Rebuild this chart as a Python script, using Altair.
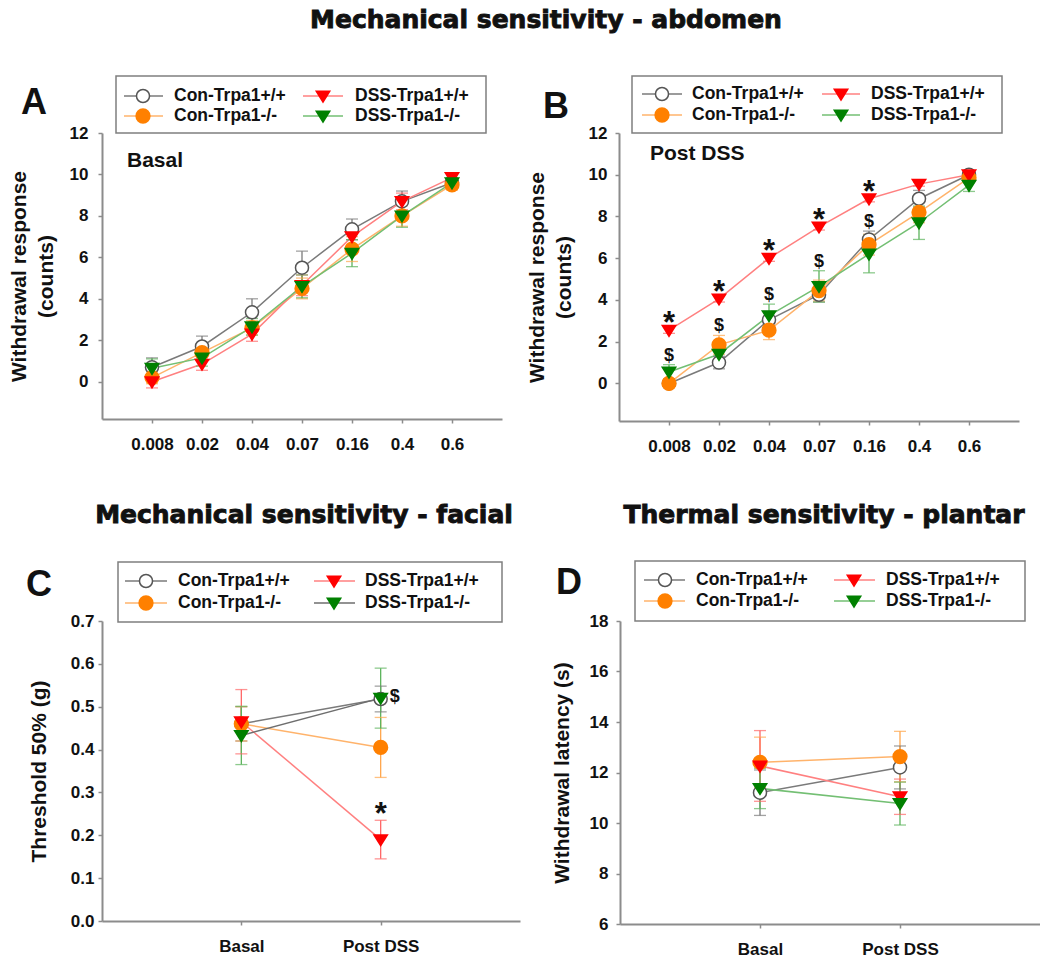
import altair as alt
import pandas as pd

# ---- groups, categories -------------------------------------------------
series = ["Con-Trpa1+/+", "Con-Trpa1-/-", "DSS-Trpa1+/+", "DSS-Trpa1-/-"]
doses = ["0.008", "0.02", "0.04", "0.07", "0.16", "0.4", "0.6"]
phases = ["Basal", "Post DSS"]

# ---- A: abdomen, basal (withdrawal counts, mean and SEM) -----------------
a_con_wt = [0.7, 1.7, 3.35, 5.5, 7.35, 8.7, 9.6]
a_con_wt_se = [0.45, 0.5, 0.65, 0.8, 0.5, 0.5, 0.2]
a_con_ko = [0.2, 1.4, 2.6, 4.5, 6.4, 8.0, 9.5]
a_con_ko_se = [0.3, 0.4, 0.35, 0.5, 0.6, 0.5, 0.25]
a_dss_wt = [0.0, 0.85, 2.3, 4.65, 7.0, 8.7, 9.85]
a_dss_wt_se = [0.3, 0.3, 0.35, 0.5, 0.5, 0.4, 0.15]
a_dss_ko = [0.65, 1.15, 2.65, 4.6, 6.2, 8.0, 9.6]
a_dss_ko_se = [0.45, 0.4, 0.4, 0.55, 0.65, 0.55, 0.25]

# ---- B: abdomen, post DSS ------------------------------------------------
b_con_wt = [0.0, 1.0, 3.05, 4.25, 6.9, 8.85, 10.0]
b_con_wt_se = [0.1, 0.3, 0.4, 0.35, 0.4, 0.4, 0.1]
b_con_ko = [0.0, 1.85, 2.55, 4.45, 6.65, 8.2, 9.85]
b_con_ko_se = [0.1, 0.45, 0.45, 0.5, 0.5, 0.5, 0.2]
b_dss_wt = [2.55, 4.05, 6.0, 7.5, 8.85, 9.55, 10.0]
b_dss_wt_se = [0.15, 0.15, 0.15, 0.15, 0.15, 0.1, 0.05]
b_dss_ko = [0.55, 1.4, 3.25, 4.65, 6.2, 7.7, 9.5]
b_dss_ko_se = [0.35, 0.45, 0.55, 0.75, 0.9, 0.8, 0.3]
b_star = [True, True, True, True, True, False, False]
b_dollar = [True, True, True, True, True, False, False]

# ---- C: facial threshold 50% (g) ----------------------------------------
c_con_wt = [0.46, 0.518]
c_con_wt_se = [0.04, 0.03]
c_con_ko = [0.46, 0.405]
c_con_ko_se = [0.04, 0.07]
c_dss_wt = [0.465, 0.19]
c_dss_wt_se = [0.075, 0.045]
c_dss_ko = [0.433, 0.52]
c_dss_ko_se = [0.068, 0.07]

# ---- D: plantar withdrawal latency (s) -----------------------------------
d_con_wt = [11.2, 12.2]
d_con_wt_se = [0.9, 0.85]
d_con_ko = [12.4, 12.63]
d_con_ko_se = [1.0, 1.0]
d_dss_wt = [12.26, 11.04]
d_dss_wt_se = [1.4, 0.7]
d_dss_ko = [11.37, 10.77]
d_dss_ko_se = [0.8, 0.85]

# ---- styles ---------------------------------------------------------------
FONT = "Liberation Sans"
HEAVY = "DejaVu Sans"
INK = "#111111"
AXC = "#8c8c8c"
TRI = "M-1,-0.7L1,-0.7L0,0.9Z"

LINE = {"Con-Trpa1+/+": "#7a7a7a", "Con-Trpa1-/-": "#ffb36b",
        "DSS-Trpa1+/+": "#ff8080", "DSS-Trpa1-/-": "#73bf73"}
ERR = {"Con-Trpa1+/+": "#7a7a7a", "Con-Trpa1-/-": "#ffa64d",
       "DSS-Trpa1+/+": "#ff6666", "DSS-Trpa1-/-": "#5cb35c"}
FILL = {"Con-Trpa1+/+": "#ffffff", "Con-Trpa1-/-": "#ff8000",
        "DSS-Trpa1+/+": "#ff0000", "DSS-Trpa1-/-": "#008000"}
EDGE = {"Con-Trpa1+/+": "#555555", "Con-Trpa1-/-": "#ff8000",
        "DSS-Trpa1+/+": "#ff0000", "DSS-Trpa1-/-": "#008000"}
SHAPE = {"Con-Trpa1+/+": "circle", "Con-Trpa1-/-": "circle",
         "DSS-Trpa1+/+": TRI, "DSS-Trpa1-/-": TRI}
SIZE = {"Con-Trpa1+/+": 170, "Con-Trpa1-/-": 190,
        "DSS-Trpa1+/+": 180, "DSS-Trpa1-/-": 180}

ONE = [{"k": 0}]


def table(cats, means, sems, lines):
    rows = []
    for s, m, e in zip(series, means, sems):
        for i, (c, v, d) in enumerate(zip(cats, m, e)):
            rows.append(dict(cat=c, idx=i, series=s, y=v, err=d, lo=v - d, hi=v + d,
                             lc=lines[s], ec=ERR[s], mf=FILL[s], ms=EDGE[s],
                             shape=SHAPE[s], msize=SIZE[s]))
    return pd.DataFrame(rows)


def label(text, x, y, size, font=FONT, align="center", baseline="middle", heavy=False):
    extra = {"stroke": INK, "strokeWidth": 0.9} if heavy else {}
    return alt.Chart(alt.Data(values=ONE)).mark_text(
        text=text, font=font, fontSize=size, fontWeight="bold", color=INK,
        align=align, baseline=baseline, **extra
    ).encode(x=alt.value(x), y=alt.value(y))


def legend(box, rows, cols, lines):
    x0, x1, y0, y1 = box
    parts = [alt.Chart(alt.Data(values=ONE)).mark_rect(
        fillOpacity=0, stroke="#7f7f7f", strokeWidth=1.5
    ).encode(x=alt.value(x0), x2=alt.value(x1), y=alt.value(y0), y2=alt.value(y1))]
    for k, s in enumerate(series):
        lx0, lx1, mx, tx = cols[k // 2]
        ry = rows[k % 2]
        parts.append(alt.Chart(alt.Data(values=ONE)).mark_rule(
            color=lines[s], strokeWidth=1.5
        ).encode(x=alt.value(lx0), x2=alt.value(lx1), y=alt.value(ry)))
        parts.append(alt.Chart(alt.Data(values=ONE)).mark_point(
            shape=SHAPE[s], filled=True, fill=FILL[s], stroke=EDGE[s],
            strokeWidth=1.5, size=SIZE[s], opacity=1
        ).encode(x=alt.value(mx), y=alt.value(ry)))
        parts.append(label(s, tx, ry, 17.5, align="left"))
    return parts


def panel(df, cats, w, h, ydom, yvals, yfmt, ytitle, ytitle_x, lab_pad,
          leg, lines, extras, anchor=None):
    def X():
        return alt.X("cat:N", sort=cats,
                     scale=alt.Scale(type="point", padding=1),
                     axis=alt.Axis(title=None, labelAngle=0, labelFont=FONT,
                                   labelFontSize=17, labelFontWeight="bold",
                                   labelColor=INK, labelPadding=13, tickSize=4,
                                   tickColor=AXC, tickWidth=1.5, domainColor=AXC,
                                   domainWidth=2, grid=False))

    def Y(field):
        return alt.Y(field, scale=alt.Scale(domain=ydom, nice=False, zero=False),
                     axis=alt.Axis(title=ytitle, values=yvals, format=yfmt,
                                   labelFont=FONT, labelFontSize=17,
                                   labelFontWeight="bold", labelColor=INK,
                                   labelPadding=lab_pad, tickSize=4,
                                   tickColor=AXC, tickWidth=1.5,
                                   domainColor=AXC, domainWidth=2, grid=False,
                                   titleFont=FONT, titleFontSize=21,
                                   titleFontWeight="bold", titleColor=INK,
                                   titleAngle=270, titleAlign="center",
                                   titleBaseline="bottom", titleX=ytitle_x,
                                   titleY=h / 2, titleLineHeight=27))

    base = alt.Chart(df)
    layers = []
    if anchor is not None:
        ax, ay = anchor
        layers.append(alt.Chart(alt.Data(values=ONE)).mark_rect(opacity=0).encode(
            x=alt.value(ax), x2=alt.value(ax + 1), y=alt.value(ay), y2=alt.value(ay + 1)))
    layers += [
        base.mark_line(strokeWidth=1.5).encode(
            x=X(), y=Y("y:Q"), detail="series:N",
            stroke=alt.Stroke("lc:N", scale=None), order="idx:Q"),
        base.mark_rule(strokeWidth=1.3).encode(
            x=X(), y=Y("lo:Q"), y2="hi:Q", stroke=alt.Stroke("ec:N", scale=None)),
        base.mark_tick(orient="horizontal", size=12, thickness=1.3).encode(
            x=X(), y=Y("lo:Q"), fill=alt.Fill("ec:N", scale=None)),
        base.mark_tick(orient="horizontal", size=12, thickness=1.3).encode(
            x=X(), y=Y("hi:Q"), fill=alt.Fill("ec:N", scale=None)),
        base.mark_point(filled=True, opacity=1, strokeWidth=1.5).encode(
            x=X(), y=Y("y:Q"),
            shape=alt.Shape("shape:N", scale=None),
            fill=alt.Fill("mf:N", scale=None),
            stroke=alt.Stroke("ms:N", scale=None),
            size=alt.Size("msize:Q", scale=None)),
    ]
    for e in extras:
        if callable(e):
            layers.append(e(X, Y))
        else:
            layers.append(e)
    layers += legend(*leg, lines)
    return alt.layer(*layers).properties(width=w, height=h)


lines_std = dict(LINE)
lines_c = dict(LINE)
lines_c["DSS-Trpa1-/-"] = "#6e6e6e"

# ---- tables ---------------------------------------------------------------
df_a = table(doses, [a_con_wt, a_con_ko, a_dss_wt, a_dss_ko],
             [a_con_wt_se, a_con_ko_se, a_dss_wt_se, a_dss_ko_se], lines_std)
df_b = table(doses, [b_con_wt, b_con_ko, b_dss_wt, b_dss_ko],
             [b_con_wt_se, b_con_ko_se, b_dss_wt_se, b_dss_ko_se], lines_std)
df_c = table(phases, [c_con_wt, c_con_ko, c_dss_wt, c_dss_ko],
             [c_con_wt_se, c_con_ko_se, c_dss_wt_se, c_dss_ko_se], lines_c)
df_d = table(phases, [d_con_wt, d_con_ko, d_dss_wt, d_dss_ko],
             [d_con_wt_se, d_con_ko_se, d_dss_wt_se, d_dss_ko_se], lines_std)

# significance marks for B: * above DSS wild type, $ above the other groups
b_sig_star = df_b[df_b["series"] == "DSS-Trpa1+/+"].copy()
b_sig_star = b_sig_star[[b_star[i] for i in b_sig_star["idx"]]]
b_rest = df_b[df_b["series"] != "DSS-Trpa1+/+"]
b_top = b_rest.groupby(["cat", "idx"], as_index=False)["hi"].max()
b_top = b_top[[b_dollar[i] for i in b_top["idx"]]].rename(columns={"hi": "lvl"})

c_star = df_c[(df_c["series"] == "DSS-Trpa1+/+") & (df_c["cat"] == "Post DSS")]
c_dollar = df_c[(df_c["series"] == "DSS-Trpa1-/-") & (df_c["cat"] == "Post DSS")]


def star_layer(d, field, dy, txt, size, dx=0, align="center"):
    def make(X, Y):
        return alt.Chart(d).mark_text(
            text=txt, font=FONT, fontSize=size, fontWeight="bold", color=INK,
            baseline="alphabetic", align=align, dy=dy, dx=dx
        ).encode(x=X(), y=Y(field))
    return make


panel_a = panel(
    df_a, doses, 400, 286, [-1.8, 12], list(range(0, 13, 2)), "d",
    ["Withdrawal response", "(counts)"], -73, 10,
    ((14, 384, -57, 0), (-37, -17), [(22, 61, 41, 72), (201, 241, 221, 253)]),
    lines_std,
    [label("A", -68, -30, 36),
     label("Basal", 25, 28, 21, align="left"),
     label("Mechanical sensitivity - abdomen", 444, -113, 25, font=HEAVY, heavy=True)],
    anchor=(-102, -133))

panel_b = panel(
    df_b, doses, 400, 288, [-1.8, 12], list(range(0, 13, 2)), "d",
    ["Withdrawal response", "(counts)"], -72, 8,
    ((13, 383, -57, 0), (-39, -18), [(23, 63, 43, 73), (203, 241, 222, 252)]),
    lines_std,
    [label("B", -63, -26, 36),
     label("Post DSS", 31, 21, 21, align="left"),
     star_layer(b_sig_star, "y:Q", 3, "*", 31),
     star_layer(b_top, "lvl:Q", -4, "$", 18)])

panel_c = panel(
    df_c, phases, 418, 300, [0, 0.7], [0, 0.1, 0.2, 0.3, 0.4, 0.5, 0.6, 0.7], ".1f",
    "Threshold 50% (g)", -53, 4,
    ((16, 400, -59, 1), (-40, -18), [(23, 65, 44, 76), (212, 253, 232, 263)]),
    lines_c,
    [label("C", -63, -36, 36),
     label("Mechanical sensitivity -  facial", 202, -106, 25, font=HEAVY, heavy=True),
     star_layer(c_star, "y:Q", -16, "*", 31),
     star_layer(c_dollar, "y:Q", 4, "$", 18, dx=9, align="left")])

panel_d = panel(
    df_d, phases, 420, 303, [6, 18], list(range(6, 19, 2)), "d",
    "Withdrawal latency (s)", -48, 8,
    ((15, 405, -60, 0), (-41, -20), [(24, 65, 45, 76), (214, 255, 234, 266)]),
    lines_std,
    [label("D", -51, -38, 36),
     label("Thermal sensitivity - plantar", 204, -106, 25, font=HEAVY, heavy=True)])

# flush bounds: panels are placed by their plot areas only
top = alt.hconcat(panel_a, panel_b, spacing=117, bounds="flush")
bottom = alt.hconcat(panel_c, panel_d, spacing=100, bounds="flush")
chart = alt.vconcat(top, bottom, spacing=488, bounds="flush").properties(
    padding=0, background="#ffffff"
).configure_view(stroke=None)

chart.save("out.html", embed_options={"renderer": "svg", "actions": False})
